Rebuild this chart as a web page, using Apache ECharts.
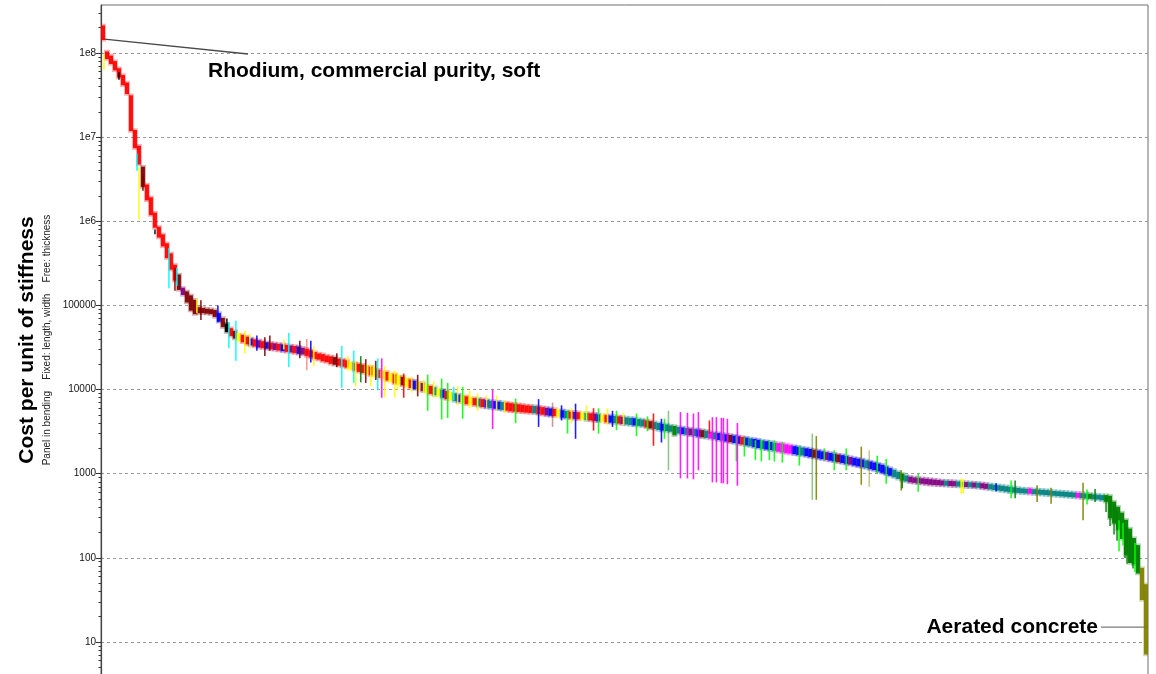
<!DOCTYPE html>
<html>
<head>
<meta charset="utf-8">
<title>Cost per unit of stiffness</title>
<script src="https://cdn.jsdelivr.net/npm/echarts@6/dist/echarts.min.js"></script>
<style>
  html, body { margin: 0; padding: 0; background: #fff; }
  #chart { width: 1156px; height: 674px; }
</style>
</head>
<body>
<div id="chart"></div>
<script>
// Ranked materials: each band entry is [low, high, family] for one slot of the ranking.
const bandHead = [
  [1.45e8, 2.1e8, 'R'], [8.6e7, 1.03e8, 'R'], [7.5e7, 9.2e7, 'R'], [6.3e7, 7.9e7, 'R'], [5.2e7, 6.5e7, 'R'],
  [4.2e7, 5.4e7, 'R'], [3.3e7, 4.4e7, 'R'], [1.2e7, 3.1e7, 'R'], [7.5e6, 1.2e7, 'R'], [4.8e6, 7.8e6, 'R'],
  [2.6e6, 4.4e6, 'M'], [1.8e6, 2.7e6, 'R'], [1.2e6, 1.9e6, 'R'], [8.5e5, 1.25e6, 'R'], [6.5e5, 8.5e5, 'R'],
  [5.1e5, 6.9e5, 'R'], [3.7e5, 5.4e5, 'R'], [2.7e5, 4.1e5, 'R'], [2.0e5, 3.0e5, 'R'], [1.55e5, 2.3e5, 'M'],
  [1.35e5, 1.6e5, 'U'], [1.1e5, 1.45e5, 'M'], [8.8e4, 1.3e5, 'M'], [8.0e4, 1.15e5, 'M'], [8.2e4, 9.4e4, 'M'],
  [8.2e4, 9.2e4, 'M'], [8.1e4, 9.0e4, 'M'], [8.0e4, 8.9e4, 'M'], [7.4e4, 8.7e4, 'M'], [6.5e4, 8.0e4, 'B'],
  [5.6e4, 7.0e4, 'M'], [4.9e4, 6.0e4, 'K'], [4.4e4, 5.3e4, 'R'], [4.1e4, 4.9e4, 'M'], [3.8e4, 4.6e4, 'Y'],
  [3.7e4, 4.4e4, 'R'], [3.5e4, 4.2e4, 'R'], [3.4e4, 4.0e4, 'B'], [3.3e4, 3.9e4, 'R'], [3.2e4, 3.8e4, 'U'],
  [3.15e4, 3.7e4, 'R'], [3.1e4, 3.6e4, 'B'], [3.05e4, 3.55e4, 'R'], [3.0e4, 3.5e4, 'U'], [2.95e4, 3.45e4, 'R'],
  [2.9e4, 3.4e4, 'B'], [2.85e4, 3.35e4, 'R'], [2.8e4, 3.3e4, 'U'], [2.75e4, 3.25e4, 'R'], [2.7e4, 3.2e4, 'B']
];
const bandUpper = [
  [2.65e4, 3.1e4, 'U'], [2.55e4, 3.0e4, 'R'], [2.45e4, 2.9e4, 'R'], [2.35e4, 2.75e4, 'R'], [2.3e4, 2.65e4, 'R'],
  [2.2e4, 2.6e4, 'R'], [2.15e4, 2.5e4, 'R'], [2.05e4, 2.45e4, 'R'], [2.0e4, 2.4e4, 'M'], [1.95e4, 2.3e4, 'R'],
  [1.9e4, 2.25e4, 'R'], [1.85e4, 2.2e4, 'R'], [1.75e4, 2.1e4, 'Y'], [1.7e4, 2.05e4, 'R'], [1.65e4, 2.0e4, 'R'],
  [1.6e4, 1.95e4, 'R'], [1.55e4, 1.9e4, 'Y'], [1.5e4, 1.85e4, 'R'], [1.45e4, 1.8e4, 'Y'], [1.4e4, 1.7e4, 'R'],
  [1.35e4, 1.65e4, 'Y'], [1.3e4, 1.6e4, 'R'], [1.25e4, 1.55e4, 'Y'], [1.2e4, 1.5e4, 'R'], [1.17e4, 1.45e4, 'Y'],
  [1.14e4, 1.4e4, 'M'], [1.1e4, 1.35e4, 'Y'], [1.06e4, 1.3e4, 'R'], [1.03e4, 1.26e4, 'B'], [1.0e4, 1.22e4, 'Y'],
  [9.7e3, 1.18e4, 'U'], [9.3e3, 1.13e4, 'Y'], [9.0e3, 1.09e4, 'R'], [8.7e3, 1.05e4, 'T'], [8.4e3, 1.01e4, 'Y'],
  [8.1e3, 9.8e3, 'B'], [7.8e3, 9.5e3, 'R'], [7.6e3, 9.2e3, 'Y'], [7.4e3, 8.9e3, 'T'], [7.2e3, 8.6e3, 'B'],
  [7.0e3, 8.4e3, 'Y'], [6.8e3, 8.2e3, 'R'], [6.7e3, 8.0e3, 'Y'], [6.6e3, 7.8e3, 'R'], [6.4e3, 7.7e3, 'T'],
  [6.3e3, 7.6e3, 'R'], [6.2e3, 7.4e3, 'B'], [6.1e3, 7.3e3, 'T'], [6.0e3, 7.2e3, 'B'], [5.9e3, 7.1e3, 'B']
];
const bandMiddle = [
  [5.8e3, 7.0e3, 'T'], [5.7e3, 6.9e3, 'R'], [5.6e3, 6.8e3, 'R'], [5.55e3, 6.7e3, 'R'], [5.5e3, 6.6e3, 'R'],
  [5.45e3, 6.5e3, 'R'], [5.4e3, 6.4e3, 'R'], [5.35e3, 6.35e3, 'R'], [5.3e3, 6.3e3, 'T'], [5.2e3, 6.2e3, 'R'],
  [5.1e3, 6.1e3, 'R'], [5.0e3, 6.0e3, 'U'], [4.95e3, 5.9e3, 'B'], [4.9e3, 5.8e3, 'R'], [4.8e3, 5.7e3, 'Y'],
  [4.7e3, 5.6e3, 'B'], [4.65e3, 5.5e3, 'T'], [4.6e3, 5.4e3, 'R'], [4.55e3, 5.35e3, 'U'], [4.5e3, 5.3e3, 'R'],
  [4.45e3, 5.25e3, 'Y'], [4.4e3, 5.2e3, 'T'], [4.35e3, 5.15e3, 'R'], [4.3e3, 5.1e3, 'U'], [4.25e3, 5.0e3, 'B'],
  [4.2e3, 4.95e3, 'Y'], [4.15e3, 4.9e3, 'R'], [4.1e3, 4.85e3, 'B'], [4.05e3, 4.8e3, 'T'], [4.0e3, 4.75e3, 'R'],
  [3.95e3, 4.7e3, 'U'], [3.9e3, 4.6e3, 'T'], [3.85e3, 4.55e3, 'T'], [3.8e3, 4.5e3, 'B'], [3.75e3, 4.4e3, 'T'],
  [3.7e3, 4.35e3, 'T'], [3.6e3, 4.25e3, 'R'], [3.5e3, 4.15e3, 'M'], [3.45e3, 4.05e3, 'T'], [3.35e3, 3.95e3, 'T'],
  [3.3e3, 3.85e3, 'B'], [3.25e3, 3.8e3, 'T'], [3.2e3, 3.7e3, 'T'], [2.9e3, 3.65e3, 'D'], [3.05e3, 3.55e3, 'T'],
  [3.0e3, 3.5e3, 'B'], [2.95e3, 3.45e3, 'T'], [2.9e3, 3.4e3, 'U'], [2.85e3, 3.35e3, 'T'], [2.8e3, 3.3e3, 'B']
];
const bandLower = [
  [2.75e3, 3.25e3, 'M'], [2.7e3, 3.2e3, 'T'], [2.65e3, 3.1e3, 'P'], [2.6e3, 3.05e3, 'T'], [2.55e3, 3.0e3, 'B'],
  [2.5e3, 2.95e3, 'T'], [2.45e3, 2.9e3, 'B'], [2.4e3, 2.85e3, 'M'], [2.35e3, 2.8e3, 'B'], [2.3e3, 2.75e3, 'B'],
  [2.25e3, 2.7e3, 'R'], [2.2e3, 2.65e3, 'B'], [2.15e3, 2.6e3, 'T'], [2.1e3, 2.55e3, 'B'], [2.05e3, 2.5e3, 'B'],
  [2.0e3, 2.45e3, 'T'], [1.97e3, 2.4e3, 'B'], [1.94e3, 2.35e3, 'B'], [1.9e3, 2.3e3, 'T'], [1.85e3, 2.28e3, 'P'],
  [1.82e3, 2.25e3, 'P'], [1.78e3, 2.2e3, 'P'], [1.76e3, 2.15e3, 'P'], [1.73e3, 2.1e3, 'B'], [1.7e3, 2.06e3, 'B'],
  [1.67e3, 2.02e3, 'T'], [1.64e3, 1.98e3, 'B'], [1.6e3, 1.94e3, 'B'], [1.57e3, 1.9e3, 'M'], [1.54e3, 1.86e3, 'B'],
  [1.51e3, 1.82e3, 'B'], [1.48e3, 1.78e3, 'U'], [1.45e3, 1.74e3, 'B'], [1.42e3, 1.7e3, 'B'], [1.39e3, 1.67e3, 'M'],
  [1.36e3, 1.64e3, 'B'], [1.33e3, 1.6e3, 'B'], [1.3e3, 1.56e3, 'U'], [1.27e3, 1.52e3, 'B'], [1.24e3, 1.49e3, 'B'],
  [1.21e3, 1.46e3, 'B'], [1.18e3, 1.42e3, 'T'], [1.15e3, 1.38e3, 'B'], [1.12e3, 1.34e3, 'B'], [1.08e3, 1.3e3, 'B'],
  [1.04e3, 1.26e3, 'B'], [1.0e3, 1.2e3, 'B'], [9.6e2, 1.15e3, 'B'], [9.2e2, 1.1e3, 'T'], [8.8e2, 1.04e3, 'T']
];
const bandTail = [
  [8.4e2, 9.9e2, 'D'], [8.2e2, 9.4e2, 'T'], [8.0e2, 9.1e2, 'U'], [7.9e2, 8.9e2, 'U'], [7.8e2, 8.8e2, 'U'],
  [7.7e2, 8.7e2, 'U'], [7.6e2, 8.6e2, 'U'], [7.5e2, 8.5e2, 'U'], [7.45e2, 8.4e2, 'U'], [7.4e2, 8.3e2, 'U'],
  [7.35e2, 8.2e2, 'U'], [7.3e2, 8.15e2, 'T'], [7.25e2, 8.1e2, 'U'], [7.2e2, 8.05e2, 'U'], [7.15e2, 8.0e2, 'T'],
  [7.1e2, 7.9e2, 'T'], [7.05e2, 7.85e2, 'U'], [7.0e2, 7.8e2, 'T'], [6.95e2, 7.75e2, 'U'], [6.9e2, 7.7e2, 'T'],
  [6.8e2, 7.6e2, 'U'], [6.7e2, 7.5e2, 'U'], [6.6e2, 7.4e2, 'T'], [6.5e2, 7.3e2, 'T'], [6.4e2, 7.2e2, 'T'],
  [6.3e2, 7.1e2, 'T'], [6.2e2, 7.0e2, 'T'], [6.1e2, 6.9e2, 'T'], [6.05e2, 6.8e2, 'T'], [6.0e2, 6.7e2, 'T'],
  [5.95e2, 6.6e2, 'T'], [5.9e2, 6.55e2, 'T'], [5.85e2, 6.5e2, 'P'], [5.8e2, 6.45e2, 'T'], [5.75e2, 6.4e2, 'T'],
  [5.7e2, 6.35e2, 'T'], [5.65e2, 6.3e2, 'T'], [5.6e2, 6.25e2, 'T'], [5.55e2, 6.15e2, 'T'], [5.5e2, 6.1e2, 'T'],
  [5.45e2, 6.05e2, 'T'], [5.4e2, 6.0e2, 'T'], [5.35e2, 5.95e2, 'T'], [5.3e2, 5.9e2, 'T'], [5.25e2, 5.85e2, 'P'],
  [5.2e2, 5.8e2, 'T'], [5.15e2, 5.75e2, 'T'], [5.1e2, 5.7e2, 'D'], [5.05e2, 5.6e2, 'T'], [5.0e2, 5.55e2, 'T'],
  [4.9e2, 5.5e2, 'T'], [4.7e2, 5.5e2, 'D'], [3.0e2, 5.4e2, 'D'], [2.6e2, 4.6e2, 'D'], [2.2e2, 4.0e2, 'D'],
  [1.7e2, 3.4e2, 'D'], [1.1e2, 2.8e2, 'D'], [8.8e1, 2.2e2, 'D'], [8.5e1, 1.7e2, 'D'], [6.6e1, 1.4e2, 'D'],
  [3.2e1, 7.5e1, 'O'], [7.2e0, 4.8e1, 'O']
];

// Wide-range materials drawn as thin bars: [rank, low, high, family].
const spikesLeft = [
  [0.75, 6.3e7, 9.6e7, 'Y'], [4.5, 4.8e7, 5.9e7, 'K'], [9, 4.0e6, 6.4e6, 'C'], [9.5, 1.05e6, 4.4e6, 'Y'],
  [10.5, 2.3e6, 3.5e6, 'M'], [13.5, 7.0e5, 8.0e5, 'K'], [17, 1.6e5, 4.8e5, 'C'], [18.5, 1.5e5, 2.8e5, 'M'],
  [19, 1.7e5, 2.8e5, 'C'], [24, 8.1e4, 1.2e5, 'Y'], [25, 6.7e4, 1.15e5, 'M'], [29.25, 6.3e4, 1.0e5, 'B'],
  [31.5, 4.8e4, 7.0e4, 'K'], [32, 3.1e4, 6.3e4, 'C'], [33.75, 2.2e4, 6.6e4, 'C'], [36, 2.7e4, 5.0e4, 'Y'],
  [37.25, 3.1e4, 4.6e4, 'Y'], [39, 2.9e4, 4.4e4, 'B'], [41, 2.5e4, 4.2e4, 'M'], [42.25, 2.9e4, 4.4e4, 'M'],
  [45.75, 3.0e4, 3.9e4, 'Y'], [47, 1.85e4, 4.7e4, 'C'], [49.75, 2.35e4, 3.8e4, 'M'], [51.5, 1.7e4, 4.0e4, 'r'],
  [52.5, 2.1e4, 3.8e4, 'B'], [53.25, 1.9e4, 3.3e4, 'Y'], [59, 1.85e4, 2.7e4, 'M'], [60.25, 1.05e4, 3.3e4, 'C'],
  [61.75, 1.7e4, 2.5e4, 'Y'], [63.25, 1.2e4, 2.9e4, 'C'], [63.75, 1.1e4, 2.2e4, 'Y'], [65, 1.22e4, 2.5e4, 'D'],
  [66.25, 1.2e4, 2.3e4, 'M'], [67.5, 1.1e4, 2.0e4, 'Y'], [68.75, 1.3e4, 2.2e4, 'M'], [69.25, 9.8e3, 2.35e4, 'C'],
  [70.25, 8.0e3, 2.35e4, 'P'], [71, 8.0e3, 1.9e4, 'Y'], [73.5, 8.0e3, 1.68e4, 'Y'], [74.25, 1.0e4, 1.55e4, 'Y'],
  [75.75, 8.0e3, 1.55e4, 'R'], [77.75, 9.2e3, 1.4e4, 'Y'], [79.25, 8.3e3, 1.5e4, 'M'], [80.75, 9.2e3, 1.3e4, 'Y'],
  [81.75, 5.6e3, 1.5e4, 'G'], [83.25, 8.0e3, 1.25e4, 'Y'], [85.25, 4.4e3, 1.35e4, 'G'], [86.75, 4.6e3, 1.2e4, 'G'],
  [88.25, 7.4e3, 1.08e4, 'C'], [89.25, 6.5e3, 1.1e4, 'Y'], [90.5, 4.5e3, 1.08e4, 'G'], [92.25, 6.0e3, 9.8e3, 'Y'],
  [94.25, 5.6e3, 9.0e3, 'Y'], [96.5, 6.0e3, 8.5e3, 'Y'], [98, 3.4e3, 1.0e4, 'P'], [99, 5.6e3, 8.5e3, 'Y'],
  [101, 5.3e3, 7.4e3, 'Y'], [103.75, 4.0e3, 7.8e3, 'G'], [109.5, 3.6e3, 7.7e3, 'B'], [113, 3.6e3, 7.0e3, 'm'],
  [115.25, 4.3e3, 6.5e3, 'B'], [116.75, 3.0e3, 5.6e3, 'G'], [117.75, 4.0e3, 6.0e3, 'Y'], [118.75, 2.6e3, 6.8e3, 'B'],
  [121.5, 4.3e3, 6.5e3, 'Y'], [123.25, 3.25e3, 6.0e3, 'R'], [124.5, 3.0e3, 6.0e3, 'G'], [126.75, 3.8e3, 6.0e3, 'Y']
];
const spikesRight = [
  [128, 3.6e3, 5.6e3, 'B'], [129, 3.3e3, 5.6e3, 'G'], [130.75, 3.8e3, 5.3e3, 'Y'], [134, 2.8e3, 5.2e3, 'G'],
  [136.75, 3.2e3, 4.8e3, 'G'], [138.25, 2.15e3, 5.2e3, 'R'], [140.25, 2.35e3, 4.5e3, 'B'], [141, 2.6e3, 4.5e3, 'G'],
  [142, 1.1e3, 5.6e3, 'd'], [145, 8.8e2, 5.4e3, 'P'], [146.75, 8.8e2, 5.3e3, 'P'], [148.25, 8.6e2, 5.2e3, 'P'],
  [149.5, 1.1e3, 5.4e3, 'P'], [152.25, 3.0e3, 4.3e3, 'R'], [153, 7.9e2, 4.7e3, 'P'], [154, 7.9e2, 4.7e3, 'P'],
  [155.25, 7.7e2, 4.6e3, 'P'], [155.75, 7.7e2, 4.6e3, 'P'], [156.75, 7.5e2, 4.5e3, 'P'], [159, 1.4e3, 2.8e3, 'G'],
  [159.25, 7.2e2, 4.0e3, 'P'], [161, 1.6e3, 2.7e3, 'G'], [163.75, 1.45e3, 2.5e3, 'G'], [165.25, 1.4e3, 2.5e3, 'G'],
  [167.25, 1.45e3, 2.5e3, 'G'], [168.5, 1.4e3, 2.5e3, 'G'], [170.5, 1.35e3, 2.4e3, 'G'], [174.75, 1.25e3, 2.15e3, 'G'],
  [178, 4.9e2, 3.0e3, 'd'], [179, 4.9e2, 2.8e3, 'O'], [181, 1.45e3, 2.0e3, 'G'], [183.5, 1.1e3, 1.9e3, 'G'],
  [186.5, 1.1e3, 2.0e3, 'G'], [190.25, 7.4e2, 2.1e3, 'O'], [192.25, 7.0e2, 1.9e3, 'o'], [194.25, 1.0e3, 1.64e3, 'G'],
  [196.5, 7.6e2, 1.5e3, 'G'], [200.25, 6.3e2, 1.1e3, 'O'], [200.5, 6.7e2, 1.0e3, 'D'], [204.5, 6.1e2, 1.0e3, 'G'],
  [215.25, 5.8e2, 8.7e2, 'Y'], [215.75, 5.9e2, 8.7e2, 'Y'], [224, 6.2e2, 7.7e2, 'B'], [227.75, 5.1e2, 8.3e2, 'G'],
  [228.75, 5.1e2, 8.3e2, 'D'], [232.5, 5.9e2, 6.8e2, 'P'], [234.25, 4.6e2, 7.3e2, 'O'], [237.75, 4.4e2, 6.8e2, 'O'],
  [245.75, 2.8e2, 7.8e2, 'O'], [246.75, 4.3e2, 6.5e2, 'G'], [248.75, 4.6e2, 6.6e2, 'D'], [251.5, 3.5e2, 5.3e2, 'D'],
  [252.5, 2.4e2, 4.8e2, 'D'], [253.5, 1.9e2, 4.3e2, 'D'], [254.25, 1.6e2, 3.6e2, 'D'], [254.75, 1.2e2, 2.8e2, 'G'],
  [255.75, 1.4e2, 2.6e2, 'G'], [256.25, 1.0e2, 2.5e2, 'D'], [256.75, 8.5e1, 2.3e2, 'D'], [257.5, 8.8e1, 2.0e2, 'D'],
  [258.25, 7.5e1, 1.6e2, 'D'], [258.75, 6.8e1, 1.5e2, 'G'], [259.5, 7.0e1, 1.3e2, 'D']
];

// Axis decades and their printed labels.
const yTicks = [10, 100, 1000, 10000, 100000, 1e6, 1e7, 1e8];
const yTickLabels = ['10', '100', '1000', '10000', '100000', '1e6', '1e7', '1e8'];
const yMin = 3.84;
const yMax = 3.72e8;

// Annotated materials: [rank, value] anchor of each leader line.
const rhodiumAnchor = [0, 1.47e8];
const concreteAnchor = [262, 15];

const familyColors = {
  R: 'rgb(255,0,0)', M: 'rgb(128,0,0)', Y: 'rgb(255,255,0)', C: 'rgb(0,255,255)',
  B: 'rgb(0,0,255)', P: 'rgb(255,0,255)', G: 'rgb(0,255,0)', D: 'rgb(0,128,0)',
  O: 'rgb(128,128,0)', T: 'rgb(0,128,128)', U: 'rgb(128,0,128)', K: 'rgb(0,0,0)',
  r: 'rgba(255,0,0,0.45)', m: 'rgba(128,0,0,0.45)', d: 'rgba(0,128,0,0.5)', o: 'rgba(128,128,0,0.5)'
};

const band = [...bandHead, ...bandUpper, ...bandMiddle, ...bandLower, ...bandTail];
const spikes = [...spikesLeft, ...spikesRight];

// Minor log ticks (2..9 of each decade) inside the axis range.
const minorTicks = [];
for (let e = 0; e <= 8; e++) {
  for (let m = 2; m <= 9; m++) {
    const v = m * Math.pow(10, e);
    if (v > yMin && v < yMax) minorTicks.push(v);
  }
}

const bandData = band.map((d, i) => ({
  value: [i + 0.5, d[0], d[1]],
  itemStyle: { color: familyColors[d[2]] }
}));
const spikeData = spikes.map(d => ({
  value: [d[0], d[1], d[2]],
  itemStyle: { color: familyColors[d[3]] }
}));

// Each ranking slot: a soft translucent halo plus the solid range bar.
function renderBand(params, api) {
  const r = api.value(0);
  const top = api.coord([r, api.value(2)]);
  const bottom = api.coord([r, api.value(1)]);
  const left = api.coord([r - 0.5, api.value(1)])[0];
  const right = api.coord([r + 0.5, api.value(1)])[0];
  const h = Math.max(bottom[1] - top[1], 1.5);
  const color = api.visual('color');
  return {
    type: 'group',
    children: [
      {
        type: 'rect',
        shape: { x: left - 1, y: top[1] - 2.2, width: right - left + 2, height: h + 4.4 },
        style: { fill: color, opacity: 0.3 }
      },
      {
        type: 'rect',
        shape: { x: left, y: top[1] - 0.5, width: right - left, height: h + 1 },
        style: { fill: color, opacity: 0.92 }
      }
    ]
  };
}

function renderSpike(params, api) {
  const r = api.value(0);
  const top = api.coord([r, api.value(2)]);
  const bottom = api.coord([r, api.value(1)]);
  return {
    type: 'rect',
    shape: { x: top[0] - 0.8, y: top[1], width: 1.6, height: Math.max(bottom[1] - top[1], 1) },
    style: { fill: api.visual('color'), opacity: 0.88 }
  };
}

const chart = echarts.init(document.getElementById('chart'), null, { renderer: 'canvas' });

chart.setOption({
  backgroundColor: '#ffffff',
  animation: false,
  grid: {
    left: 101, right: 8, top: 5, bottom: -3,
    show: true, borderColor: '#6e6e6e', borderWidth: 1, backgroundColor: 'transparent',
    outerBoundsMode: 'none'
  },
  xAxis: { type: 'value', min: 0, max: band.length, show: false },
  yAxis: [
    {
      type: 'log', logBase: 10, min: yMin, max: yMax, position: 'left',
      axisLine: { show: true, lineStyle: { color: '#444', width: 1.2 } },
      axisTick: { show: true, length: 5, customValues: yTicks, lineStyle: { color: '#333' } },
      axisLabel: {
        customValues: yTicks,
        margin: 5,
        fontFamily: 'Liberation Sans', fontSize: 10, color: '#111',
        formatter: v => yTickLabels[Math.round(Math.log10(v)) - 1]
      },
      splitLine: { show: true, lineStyle: { color: '#9a9a9a', width: 1, type: [3, 3] } }
    },
    {
      type: 'log', logBase: 10, min: yMin, max: yMax, position: 'left', offset: 0,
      axisLine: { show: false },
      axisTick: { show: true, length: 2.5, customValues: minorTicks, lineStyle: { color: '#333' } },
      axisLabel: { show: false },
      splitLine: { show: false }
    }
  ],
  series: [
    {
      type: 'custom', name: 'band', renderItem: renderBand, clip: true,
      encode: { x: 0, y: [1, 2] }, data: bandData, yAxisIndex: 0
    },
    {
      type: 'custom', name: 'spikes', renderItem: renderSpike, clip: true,
      encode: { x: 0, y: [1, 2] }, data: spikeData, yAxisIndex: 0
    }
  ]
});

// Axis titles and annotation labels.
const p1 = chart.convertToPixel({ gridIndex: 0 }, rhodiumAnchor);
const p2 = chart.convertToPixel({ gridIndex: 0 }, concreteAnchor);

chart.setOption({
  graphic: [
    {
      type: 'text', x: 27, y: 340, rotation: Math.PI / 2,
      style: {
        text: 'Cost per unit of stiffness', font: 'bold 21px "Liberation Sans"',
        fill: '#000', textAlign: 'center', textVerticalAlign: 'middle'
      }
    },
    {
      type: 'text', x: 47, y: 340, rotation: Math.PI / 2,
      style: {
        text: 'Panel in bending    Fixed: length, width    Free: thickness', font: '10px "Liberation Sans"',
        fill: '#222', textAlign: 'center', textVerticalAlign: 'middle'
      }
    },
    {
      type: 'line', shape: { x1: p1[0] + 1, y1: p1[1], x2: 248, y2: 54 },
      style: { stroke: '#4a4a4a', lineWidth: 1.3 }
    },
    {
      type: 'text', x: 208, y: 71,
      style: {
        text: 'Rhodium, commercial purity, soft', font: 'bold 21px "Liberation Sans"',
        fill: '#000', textAlign: 'left', textVerticalAlign: 'middle'
      }
    },
    {
      type: 'line', shape: { x1: 1101, y1: p2[1], x2: p2[0], y2: p2[1] },
      style: { stroke: '#7a7a7a', lineWidth: 1.3 }
    },
    {
      type: 'text', x: 1098, y: 627,
      style: {
        text: 'Aerated concrete', font: 'bold 21px "Liberation Sans"',
        fill: '#000', textAlign: 'right', textVerticalAlign: 'middle'
      }
    }
  ]
});
</script>
</body>
</html>
